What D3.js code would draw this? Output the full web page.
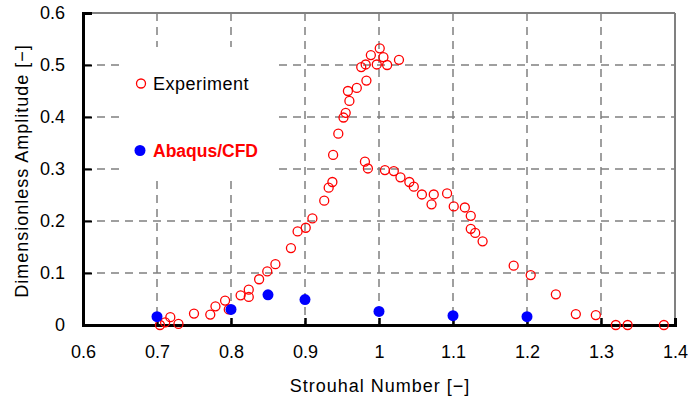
<!DOCTYPE html>
<html>
<head>
<meta charset="utf-8">
<script src="https://cdn.jsdelivr.net/npm/d3@7"></script>
<style>
  html, body { margin: 0; padding: 0; background: #fff; }
  svg { display: block; }
  text { font-family: "Liberation Sans", Arial, sans-serif; }
</style>
</head>
<body>
<svg id="chart" width="700" height="399"></svg>
<script>
// ---- Data ----
const expX = [0.704, 0.711, 0.718, 0.729, 0.750, 0.772, 0.779, 0.792, 0.797, 0.813, 0.824, 0.824,
  0.838, 0.849, 0.860, 0.881, 0.890, 0.901, 0.910, 0.926, 0.932, 0.937, 0.938, 0.945, 0.952, 0.955,
  0.960, 0.958, 0.970, 0.983, 0.976, 0.982, 0.989, 1.001, 0.997, 1.006, 1.011, 1.027,
  0.981, 0.985, 1.008, 1.020, 1.029, 1.041, 1.047, 1.058, 1.074, 1.071, 1.092, 1.101, 1.116,
  1.124, 1.124, 1.130, 1.140, 1.182, 1.205, 1.239, 1.266, 1.293, 1.320, 1.336, 1.385];
const expY = [0.000, 0.005, 0.015, 0.002, 0.022, 0.020, 0.036, 0.047, 0.030, 0.057, 0.068, 0.054,
  0.088, 0.103, 0.117, 0.148, 0.180, 0.187, 0.205, 0.239, 0.264, 0.275, 0.327, 0.368, 0.399, 0.408,
  0.431, 0.450, 0.456, 0.470, 0.496, 0.501, 0.519, 0.532, 0.501, 0.515, 0.500, 0.510,
  0.314, 0.301, 0.298, 0.296, 0.284, 0.275, 0.266, 0.251, 0.251, 0.232, 0.253, 0.228, 0.226,
  0.210, 0.185, 0.177, 0.161, 0.114, 0.096, 0.059, 0.021, 0.019, 0.000, 0.000, 0.000];
const cfdX = [0.70, 0.80, 0.85, 0.90, 1.00, 1.10, 1.20];
const cfdY = [0.016, 0.030, 0.058, 0.049, 0.026, 0.018, 0.016];
const xTicks = [0.6, 0.7, 0.8, 0.9, 1.0, 1.1, 1.2, 1.3, 1.4];
const yTicks = [0, 0.1, 0.2, 0.3, 0.4, 0.5, 0.6];
const legendLabels = ["Experiment", "Abaqus/CFD"];
const xTitle = "Strouhal Number [\u2212]";
const yTitle = "Dimensionless Amplitude [\u2212]";

// ---- Layout ----
const svg = d3.select("#chart");
const L = 83, R = 675, T = 13, B = 325;
const x = d3.scaleLinear().domain([0.6, 1.4]).range([L, R]);
const y = d3.scaleLinear().domain([0, 0.6]).range([B, T]);

// grid
const grid = svg.append("g");
grid.selectAll("line.gx").data(xTicks.slice(1, -1)).join("line")
  .attr("x1", d => x(d)).attr("x2", d => x(d)).attr("y1", T).attr("y2", B)
  .attr("stroke", "#808080").attr("stroke-width", 1.5).attr("stroke-dasharray", "8,6");
grid.selectAll("line.gy").data(yTicks.slice(1, -1)).join("line")
  .attr("x1", L).attr("x2", R).attr("y1", d => y(d)).attr("y2", d => y(d))
  .attr("stroke", "#808080").attr("stroke-width", 1.5).attr("stroke-dasharray", "8,6");

// legend white background
svg.append("rect").attr("x", 122).attr("y", 47).attr("width", 151).attr("height", 134).attr("fill", "#fff");

// top/right borders
svg.append("line").attr("x1", L).attr("x2", R).attr("y1", T).attr("y2", T).attr("stroke", "#808080").attr("stroke-width", 2);
svg.append("line").attr("x1", R).attr("x2", R).attr("y1", T).attr("y2", B).attr("stroke", "#808080").attr("stroke-width", 2);

// axes
const fmt = d => String(+d.toFixed(1));
const xAxis = d3.axisBottom(x).tickValues(xTicks).tickSize(-7).tickPadding(20).tickFormat(fmt);
const gx = svg.append("g").attr("transform", `translate(0,${B})`).call(xAxis);
gx.select(".domain").attr("stroke", "#000").attr("stroke-width", 3);
gx.selectAll(".tick line").attr("stroke", "#000").attr("stroke-width", 2.5);
gx.selectAll(".tick text").attr("font-size", 18).attr("fill", "#000")
  .attr("font-family", "'Liberation Sans', Arial, sans-serif");

const yAxis = d3.axisLeft(y).tickValues(yTicks).tickSize(-9).tickPadding(18).tickFormat(fmt);
const gy = svg.append("g").attr("transform", `translate(${L},0)`).call(yAxis);
gy.select(".domain").attr("stroke", "#000").attr("stroke-width", 3);
gy.selectAll(".tick line").attr("stroke", "#000").attr("stroke-width", 2);
gy.selectAll(".tick text").attr("font-size", 18).attr("fill", "#000")
  .attr("font-family", "'Liberation Sans', Arial, sans-serif");

// data
svg.append("g").selectAll("circle").data(expX.map((d, i) => [d, expY[i]])).join("circle")
  .attr("cx", d => x(d[0])).attr("cy", d => y(d[1])).attr("r", 4.5)
  .attr("fill", "none").attr("stroke", "#ff0000").attr("stroke-width", 1.3);
svg.append("g").selectAll("circle").data(cfdX.map((d, i) => [d, cfdY[i]])).join("circle")
  .attr("cx", d => x(d[0])).attr("cy", d => y(d[1])).attr("r", 5.5)
  .attr("fill", "#0000ff");

// legend
svg.append("circle").attr("cx", 141).attr("cy", 83.5).attr("r", 4.5)
  .attr("fill", "none").attr("stroke", "#ff0000").attr("stroke-width", 1.3);
svg.append("text").attr("x", 153).attr("y", 90).attr("font-size", 18)
  .attr("letter-spacing", 0.5).text(legendLabels[0]);
svg.append("circle").attr("cx", 140).attr("cy", 150.5).attr("r", 5.5).attr("fill", "#0000ff");
svg.append("text").attr("x", 153).attr("y", 157).attr("font-size", 17.5).attr("font-weight", "bold")
  .attr("fill", "#ff0000").text(legendLabels[1]);

// titles
svg.append("text").attr("x", 380).attr("y", 392).attr("text-anchor", "middle").attr("font-size", 18)
  .attr("letter-spacing", 1).text(xTitle);
svg.append("text").attr("transform", "translate(28,171) rotate(-90)").attr("text-anchor", "middle")
  .attr("font-size", 18).attr("letter-spacing", 1).text(yTitle);
</script>
</body>
</html>
